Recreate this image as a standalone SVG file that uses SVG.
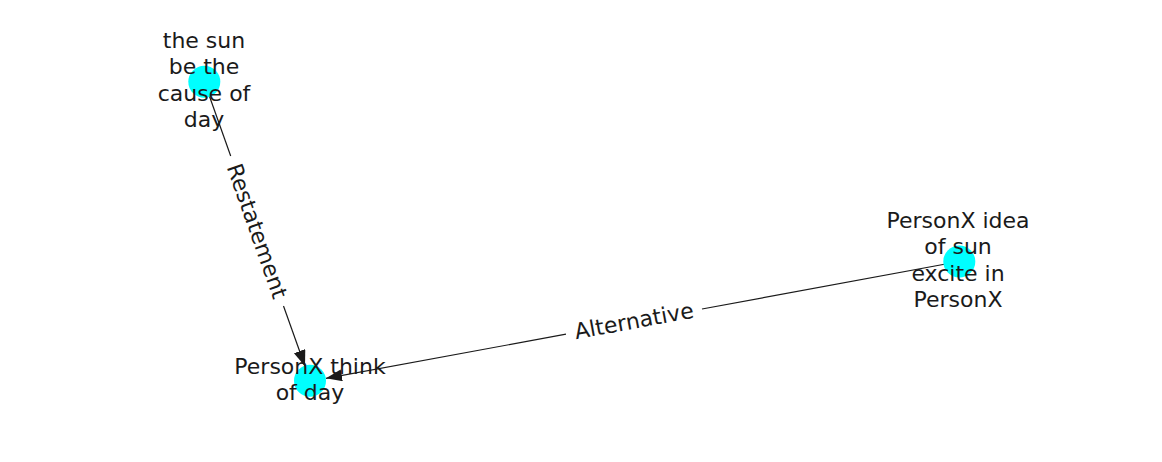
<svg xmlns="http://www.w3.org/2000/svg" width="1162" height="462" viewBox="0 0 1162 462">
<style>
.node{fill:#00ffff}
.lbl{font-family:"DejaVu Sans",sans-serif;font-size:22px;fill:#1a1a1a;text-anchor:middle;dominant-baseline:central}
.edge{stroke:#1a1a1a;stroke-width:1.2;fill:none}
</style>
<defs>
<marker id="arr" markerUnits="userSpaceOnUse" markerWidth="17" markerHeight="13" refX="16" refY="6" orient="auto">
<path d="M0,0 L16,6 L0,12 Z" fill="#1a1a1a"/>
</marker>
</defs>
<g id="connectors">
<line class="edge" x1="204.3" y1="81.7" x2="230.7" y2="156"/>
<line class="edge" x1="283.5" y1="306" x2="305" y2="366.2" marker-end="url(#arr)"/>
<text class="lbl" transform="translate(257,231) rotate(70.5)">Restatement</text>
<line class="edge" x1="959.3" y1="261.5" x2="702" y2="309"/>
<line class="edge" x1="566" y1="334.2" x2="326" y2="378.3" marker-end="url(#arr)"/>
<text class="lbl" transform="translate(634,321) rotate(-10.4)">Alternative</text>
</g>
<g id="n1">
<circle class="node" cx="204.3" cy="81.7" r="16"/>
<text class="lbl" x="204" y="40">the sun</text>
<text class="lbl" x="204" y="66.5">be the</text>
<text class="lbl" x="204" y="93">cause of</text>
<text class="lbl" x="204" y="119.5">day</text>
</g>
<g id="n2">
<circle class="node" cx="310" cy="380.7" r="16"/>
<text class="lbl" x="310" y="366">PersonX think</text>
<text class="lbl" x="310" y="392.5">of day</text>
</g>
<g id="n3">
<circle class="node" cx="959.3" cy="261.5" r="16"/>
<text class="lbl" x="958" y="220">PersonX idea</text>
<text class="lbl" x="958" y="246.5">of sun</text>
<text class="lbl" x="958" y="273">excite in</text>
<text class="lbl" x="958" y="299.5">PersonX</text>
</g>
</svg>
